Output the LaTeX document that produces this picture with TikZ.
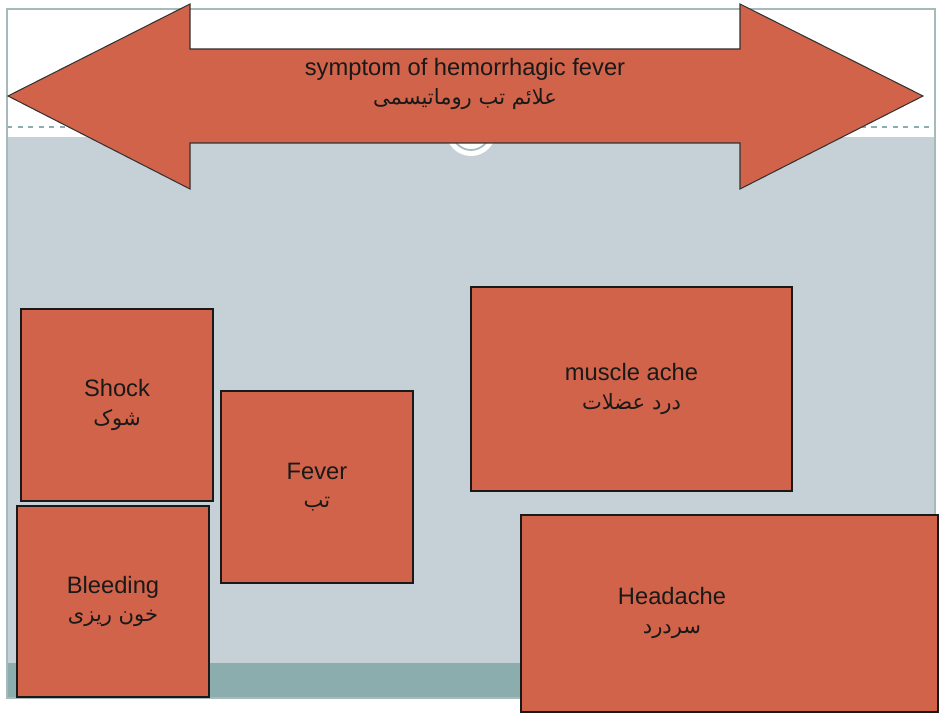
\documentclass[tikz,border=0pt]{standalone}
\usepackage{fontspec}
\setmainfont{Liberation Sans}
\newfontfamily\farsi[Script=Arabic]{DejaVu Sans}
\TeXXeTstate=1
\usetikzlibrary{positioning}
\definecolor{brick}{HTML}{D06349}
\definecolor{slate}{HTML}{C6D1D7}
\definecolor{sea}{HTML}{8CADAE}
\definecolor{rim}{HTML}{A6BABA}
\tikzstyle{symptom} = [rectangle, draw=black!90, line width=1pt, fill=brick, text=black!90, align=center, inner sep=0pt]
\tikzstyle{invis} = [rectangle, text=black!90, align=center, inner sep=0pt]
\tikzstyle{banner} = [draw=black!80, line width=0.6pt, fill=brick, line join=miter]
\newcommand{\fa}[1]{{\farsi\fontsize{12}{14}\selectfont\beginR #1\endR}}

\begin{document}
\begin{tikzpicture}[x=0.02cm, y=-0.02cm, font=\fontsize{13.5}{16}\selectfont]
\useasboundingbox (0,0) rectangle (940,719);

%% SLIDE

\fill[white] (7,9) rectangle (935,137);
\fill[slate] (7,137) rectangle (935,663);
\fill[sea] (7,663) rectangle (935,698);
\draw[sea, dashed, line width=0.6pt] (7,127) -- (935,127);
\draw[rim, line width=1pt] (7,9) rectangle (935,698);
\fill[white] (471,131) circle (25);
\draw[sea!80, line width=1pt] (471,131) circle (19);

%% BANNER

\draw[banner] (8,96) -- (190,4) -- (190,49) -- (740,49) -- (740,4) -- (923,96)
  -- (740,189) -- (740,143) -- (190,143) -- (190,189) -- cycle;
\node (title) [invis] at (465,84) {symptom of hemorrhagic fever\\\fa{علائم تب روماتیسمی}};

%% NODES

\node (shock) [symptom, minimum width=3.84cm, minimum height=3.84cm] at (117,405) {Shock\\\fa{شوک}};
\node (fever) [symptom, minimum width=3.84cm, minimum height=3.84cm] at (317,487) {Fever\\\fa{تب}};
\node (bleeding) [symptom, minimum width=3.84cm, minimum height=3.82cm] at (113,601.5) {Bleeding\\\fa{خون ریزی}};
\node (muscle) [symptom, minimum width=6.42cm, minimum height=4.08cm] at (631.5,389) {muscle ache\\\fa{درد عضلات}};
\node (headache) [symptom, minimum width=8.34cm, minimum height=3.94cm] at (729.5,613.5) {};
\node (headache_label) [invis] at (672,613) {Headache\\\fa{سردرد}};

\end{tikzpicture}
\end{document}
